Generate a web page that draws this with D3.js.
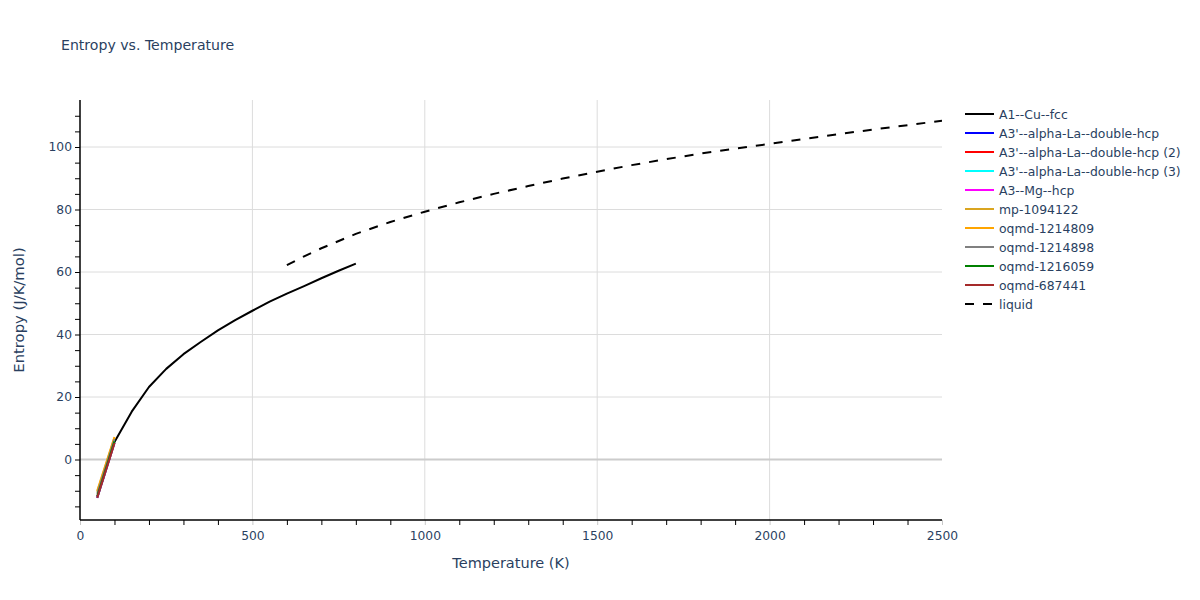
<!DOCTYPE html>
<html>
<head>
<meta charset="utf-8">
<script src="https://cdn.jsdelivr.net/npm/d3@7"></script>
<style>
body { margin: 0; background: #fff; }
svg { display: block; font-family: "DejaVu Sans", Verdana, sans-serif; }
</style>
</head>
<body>
<svg id="chart" width="1200" height="600"></svg>
<script>
// ---- data ----
const seriesNames = [
  "A1--Cu--fcc",
  "A3'--alpha-La--double-hcp",
  "A3'--alpha-La--double-hcp (2)",
  "A3'--alpha-La--double-hcp (3)",
  "A3--Mg--hcp",
  "mp-1094122",
  "oqmd-1214809",
  "oqmd-1214898",
  "oqmd-1216059",
  "oqmd-687441",
  "liquid"
];
const seriesColors = ["black", "blue", "red", "cyan", "magenta", "goldenrod", "orange", "grey", "green", "brown", "black"];
const seriesDash = [null, null, null, null, null, null, null, null, null, null, "dash"];

const cuT = [100, 150, 200, 250, 300, 350, 400, 450, 500, 550, 600, 650, 700, 750, 800];
const cuS = [5.6, 15.3, 23.2, 29.0, 33.7, 37.6, 41.3, 44.6, 47.6, 50.5, 53.1, 55.5, 58.0, 60.4, 62.7];

const shortT = [50, 100];
const laS = [-12.3, 5.3];
const la2S = [-12.2, 5.4];
const la3S = [-12.1, 5.5];
const mgS = [-12.0, 5.6];
const mpS = [-10.3, 7.0];
const oq1214809S = [-10.0, 7.2];
const oq1214898S = [-11.0, 6.5];
const oq1216059S = [-11.8, 5.8];
const oq687441S = [-12.2, 5.3];

const liqT = [600, 650, 700, 800, 900, 1000, 1100, 1200, 1300, 1400, 1500, 1600, 1700, 1800, 1900, 2000, 2100, 2200, 2300, 2400, 2500];
const liqS = [62.2, 65.0, 67.6, 72.2, 76.0, 79.3, 82.3, 85.0, 87.5, 89.9, 92.1, 94.2, 96.1, 97.9, 99.5, 101.0, 102.6, 104.1, 105.6, 107.0, 108.4];

const xTicks = [0, 500, 1000, 1500, 2000, 2500];
const yTicks = [0, 20, 40, 60, 80, 100];

const seriesX = [cuT, shortT, shortT, shortT, shortT, shortT, shortT, shortT, shortT, shortT, liqT];
const seriesY = [cuS, laS, la2S, la3S, mgS, mpS, oq1214809S, oq1214898S, oq1216059S, oq687441S, liqS];

// ---- layout ----
const svg = d3.select("#chart");
const L = 80, R = 942, T = 100, B = 520;
const textColor = "#2a3f5f";
const x = d3.scaleLinear().domain([0, 2500]).range([L, R]);
const y = d3.scaleLinear().domain([-19.36, 115.04]).range([B, T]);

// grid
const grid = svg.append("g");
grid.selectAll("line.vx").data(xTicks.filter(t => t > 0 && t < 2500)).enter().append("line")
  .attr("x1", d => x(d)).attr("x2", d => x(d)).attr("y1", T).attr("y2", B)
  .attr("stroke", "#dcdcdc").attr("stroke-width", 1);
grid.selectAll("line.hy").data(yTicks.filter(t => t !== 0)).enter().append("line")
  .attr("x1", L).attr("x2", R).attr("y1", d => y(d)).attr("y2", d => y(d))
  .attr("stroke", "#dcdcdc").attr("stroke-width", 1);
grid.append("line").attr("x1", L).attr("x2", R).attr("y1", y(0)).attr("y2", y(0))
  .attr("stroke", "#cccccc").attr("stroke-width", 2);

// axes
const xMinor = d3.range(100, 2500, 100).filter(t => t % 500 !== 0);
const xAxis = d3.axisBottom(x).tickValues(xMinor).tickSize(5).tickFormat("");
const gx = svg.append("g").attr("transform", `translate(0,${B})`).call(xAxis);
gx.select(".domain").remove();
gx.selectAll(".tick line").attr("stroke", "#000");
const xMajor = d3.axisBottom(x).tickValues(xTicks).tickSize(5).tickPadding(6).tickFormat(d3.format("d"));
const gx2 = svg.append("g").attr("transform", `translate(0,${B})`).call(xMajor);
gx2.select(".domain").remove();
gx2.selectAll(".tick line").attr("stroke", "#c8c8c8");
gx2.selectAll("text").attr("fill", textColor).attr("font-size", 12.3).attr("font-family", "DejaVu Sans, sans-serif");

const yMinor = d3.range(-15, 115, 5).filter(t => t % 20 !== 0);
const gy = svg.append("g").attr("transform", `translate(${L},0)`)
  .call(d3.axisLeft(y).tickValues(yMinor).tickSize(5).tickFormat(""));
gy.select(".domain").remove();
gy.selectAll(".tick line").attr("stroke", "#000");
const gy2 = svg.append("g").attr("transform", `translate(${L},0)`)
  .call(d3.axisLeft(y).tickValues(yTicks).tickSize(5).tickPadding(3).tickFormat(d3.format("d")));
gy2.select(".domain").remove();
gy2.selectAll(".tick line").attr("stroke", "#000");
gy2.selectAll("text").attr("fill", textColor).attr("font-size", 12.3).attr("font-family", "DejaVu Sans, sans-serif");

svg.append("line").attr("x1", L).attr("x2", R).attr("y1", B).attr("y2", B).attr("stroke", "#000").attr("stroke-width", 1.5);
svg.append("line").attr("x1", L).attr("x2", L).attr("y1", T).attr("y2", B).attr("stroke", "#000").attr("stroke-width", 1.5);

// lines
const clipId = "plotclip";
svg.append("clipPath").attr("id", clipId).append("rect").attr("x", L).attr("y", T).attr("width", R - L).attr("height", B - T);
const lineGen = d3.line().x(d => x(d[0])).y(d => y(d[1]));
const plot = svg.append("g").attr("clip-path", `url(#${clipId})`);
seriesNames.forEach((name, i) => {
  const pts = seriesX[i].map((t, j) => [t, seriesY[i][j]]);
  plot.append("path").datum(pts).attr("d", lineGen)
    .attr("fill", "none").attr("stroke", seriesColors[i]).attr("stroke-width", 2)
    .attr("stroke-linejoin", "round")
    .attr("stroke-dasharray", seriesDash[i] ? "9,9" : null);
});

// legend
const lg = svg.append("g");
seriesNames.forEach((name, i) => {
  const yy = 114 + i * 19;
  lg.append("line").attr("x1", 965).attr("x2", 994).attr("y1", yy).attr("y2", yy)
    .attr("stroke", seriesColors[i]).attr("stroke-width", 2)
    .attr("stroke-dasharray", seriesDash[i] ? "9,9" : null);
  lg.append("text").attr("x", 999).attr("y", yy + 4.5).text(name)
    .attr("fill", textColor).attr("font-size", 12.4);
});

// titles
svg.append("text").attr("x", 61).attr("y", 50).text("Entropy vs. Temperature")
  .attr("fill", textColor).attr("font-size", 14.1);
svg.append("text").attr("x", (L + R) / 2).attr("y", 568).attr("text-anchor", "middle")
  .text("Temperature (K)").attr("fill", textColor).attr("font-size", 14.5);
svg.append("text").attr("transform", `translate(24,${(T + B) / 2}) rotate(-90)`).attr("text-anchor", "middle")
  .text("Entropy (J/K/mol)").attr("fill", textColor).attr("font-size", 14.8);
</script>
</body>
</html>
